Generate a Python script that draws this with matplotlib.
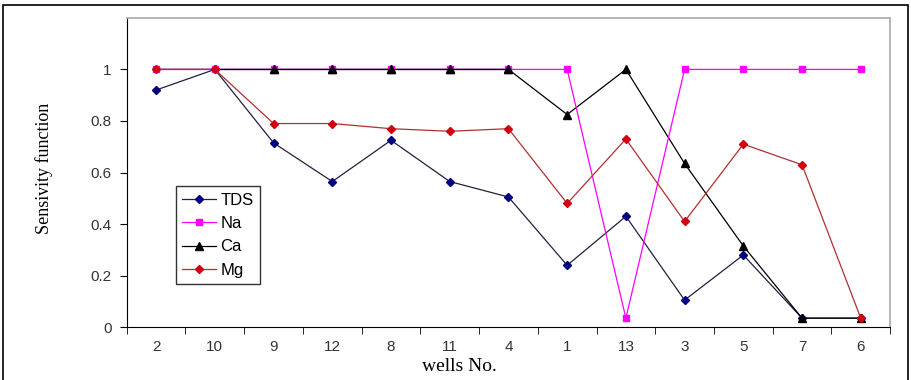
import numpy as np
import matplotlib
matplotlib.use("Agg")
import matplotlib.pyplot as plt
from matplotlib.patches import Rectangle
from matplotlib.lines import Line2D

wells = ["2", "10", "9", "12", "8", "11", "4", "1", "13", "3", "5", "7", "6"]
tds = [0.92, 1.0, 0.715, 0.565, 0.725, 0.565, 0.505, 0.24, 0.43, 0.105, 0.28, 0.035, 0.035]
na = [1, 1, 1, 1, 1, 1, 1, 1, 0.035, 1, 1, 1, 1]
ca = [1, 1, 1, 1, 1, 1, 1, 0.825, 1, 0.635, 0.315, 0.035, 0.035]
mg = [1, 1, 0.79, 0.79, 0.77, 0.76, 0.77, 0.48, 0.73, 0.41, 0.71, 0.63, 0.035]
yticks = [0, 0.2, 0.4, 0.6, 0.8, 1]

styles = {
    "TDS": dict(color="#202040", lw=0.9, marker="D", ms=4, mfc="#000080", mec="#000080"),
    "Na": dict(color="#ff00ff", lw=0.9, marker="s", ms=5, mfc="#ff00ff", mec="#ff00ff"),
    "Ca": dict(color="black", lw=0.9, marker="^", ms=5.5, mfc="black", mec="black"),
    "Mg": dict(color="#b03030", lw=0.9, marker="D", ms=4, mfc="#d00010", mec="#d00010"),
}

fig = plt.figure(figsize=(9.12, 3.8), dpi=100)
fig.patches.append(Rectangle((0.003, -0.01), 0.993, 0.998, transform=fig.transFigure,
                             fill=False, edgecolor="black", linewidth=1.2))
ax = fig.add_axes([0.139, 0.139, 0.837, 0.814])

x = np.arange(len(wells))
ax.plot(x, tds, **styles["TDS"])
ax.plot(x, ca, markevery=list(range(2, len(wells))), **styles["Ca"])
ax.plot(x, na, **styles["Na"])
# Ca line and markers over the Na line where they coincide (wells 9..4)
ax.plot(x[1:7], ca[1:7], markevery=list(range(1, 6)), **styles["Ca"])
ax.plot(x, mg, **styles["Mg"])

ax.set_xlim(-0.5, len(wells) - 0.5)
ax.set_ylim(0, 1.2)
ax.set_yticks(yticks)
ax.set_yticklabels([f"{v:g}" for v in yticks], fontfamily="Liberation Sans", fontsize=11, color="#333333")
ax.set_xticks(x)
ax.set_xticklabels(wells, fontfamily="Liberation Sans", fontsize=11, color="#333333")
ax.set_xticks(np.arange(-0.5, len(wells)), minor=True)
ax.tick_params(axis="x", which="major", length=0, pad=9)
ax.tick_params(axis="x", which="minor", length=5, direction="out", color="black")
ax.tick_params(axis="y", length=5, direction="out", pad=6)

for s in ["top", "right"]:
    ax.spines[s].set_color("#b0b0b0")
    ax.spines[s].set_linewidth(1.3)

ax.set_xlabel("wells No.", fontfamily="Liberation Serif", fontsize=14)
ax.set_ylabel("Sensivity function", fontfamily="Liberation Serif", fontsize=13)
ax.xaxis.set_label_coords(0.436, -0.1)
ax.yaxis.set_label_coords(-0.096, 0.515)

names = ["TDS", "Na", "Ca", "Mg"]
handles = [Line2D([], [], **styles[n]) for n in names]
leg = ax.legend(handles, names, loc="upper left",
                bbox_to_anchor=(0.064, 0.456), borderaxespad=0, frameon=True, fancybox=False,
                edgecolor="black", prop={"family": "Liberation Sans", "size": 12},
                handlelength=2.0, handletextpad=0.3, borderpad=0.4, labelspacing=0.5)
leg.get_frame().set_linewidth(1.0)

fig.savefig("out.png", dpi=100)
